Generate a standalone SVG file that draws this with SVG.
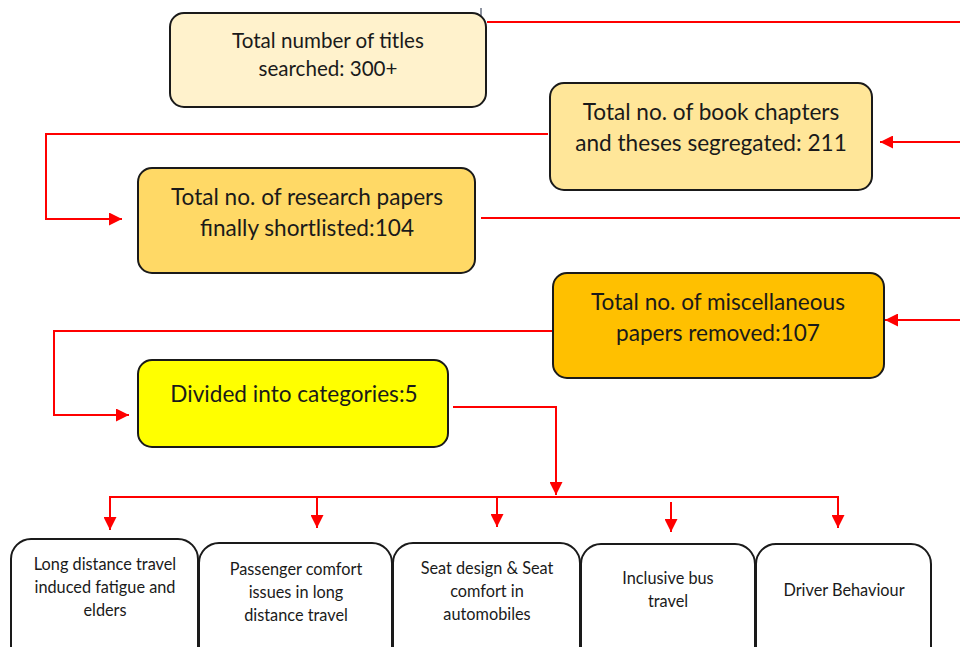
<svg xmlns="http://www.w3.org/2000/svg" width="960" height="647" viewBox="0 0 960 647">
  <defs>
    <style>
      .box { stroke: #1a1a1a; stroke-width: 2; }
      .leaf { fill: #ffffff; stroke: #1a1a1a; stroke-width: 2; }
      .lbl { font-family: Lato, "Liberation Sans", sans-serif; fill: #1a1a1a; text-anchor: middle; }
      .big { font-size: 22.6px; }
      .mid { font-size: 20.6px; }
      .sm { font-size: 16.3px; }
      .wire { fill: none; stroke: #ff0000; stroke-width: 2; }
    </style>
    <marker id="head" viewBox="0 0 10 10" refX="10" refY="5" markerWidth="13" markerHeight="13" markerUnits="userSpaceOnUse" orient="auto">
      <path d="M0,0 L10,5 L0,10 Z" fill="#ff0000"/>
    </marker>
  </defs>

  <rect width="960" height="647" fill="#ffffff"/>

  <!-- connectors -->
  <g id="connectors">
    <path class="wire" d="M487,22 H960"/>
    <path class="wire" d="M960,142 H880" marker-end="url(#head)"/>
    <path class="wire" d="M548,134 H46 V219 H122" marker-end="url(#head)"/>
    <path class="wire" d="M481,218 H960"/>
    <path class="wire" d="M960,320 H885" marker-end="url(#head)"/>
    <path class="wire" d="M553,331 H54 V415 H129" marker-end="url(#head)"/>
    <path class="wire" d="M453,407 H556 V495" marker-end="url(#head)"/>
    <path class="wire" d="M110,530 V497 H838 V528" marker-end="url(#head)"/>
    <path class="wire" d="M110,497 V530" marker-end="url(#head)"/>
    <path class="wire" d="M317,497 V528" marker-end="url(#head)"/>
    <path class="wire" d="M497,497 V527" marker-end="url(#head)"/>
    <path class="wire" d="M671,502 V532" marker-end="url(#head)"/>
  </g>

  <!-- text cursor mark -->
  <line x1="481" y1="8" x2="481" y2="38" stroke="#1f2a44" stroke-width="1"/>

  <g id="titles-searched">
    <rect class="box" x="170" y="13" width="316" height="94" rx="14" fill="#fff2cc"/>
    <text class="lbl mid" x="328" y="48">Total number of titles</text>
    <text class="lbl mid" x="328" y="76">searched: 300+</text>
  </g>

  <g id="chapters-theses">
    <rect class="box" x="550" y="83" width="322" height="107" rx="14" fill="#ffe699"/>
    <text class="lbl big" x="711" y="120">Total no. of book chapters</text>
    <text class="lbl big" x="711" y="151">and theses segregated: 211</text>
  </g>

  <g id="papers-shortlisted">
    <rect class="box" x="138" y="168" width="337" height="105" rx="14" fill="#ffd966"/>
    <text class="lbl big" x="307" y="205">Total no. of research papers</text>
    <text class="lbl big" x="307" y="236">finally shortlisted:104</text>
  </g>

  <g id="misc-removed">
    <rect class="box" x="553" y="273" width="331" height="105" rx="14" fill="#ffc000"/>
    <text class="lbl big" x="718" y="310">Total no. of miscellaneous</text>
    <text class="lbl big" x="718" y="341">papers removed:107</text>
  </g>

  <g id="categories">
    <rect class="box" x="138" y="360" width="310" height="87" rx="14" fill="#ffff00"/>
    <text class="lbl big" x="294" y="402">Divided into categories:5</text>
  </g>

  <g id="cat-fatigue">
    <rect class="leaf" x="11" y="539" width="187" height="130" rx="20"/>
    <text class="lbl sm" x="105" y="570">Long distance travel</text>
    <text class="lbl sm" x="105" y="593">induced fatigue and</text>
    <text class="lbl sm" x="105" y="616">elders</text>
  </g>

  <g id="cat-comfort">
    <rect class="leaf" x="199" y="543" width="193" height="130" rx="20"/>
    <text class="lbl sm" x="296" y="575">Passenger comfort</text>
    <text class="lbl sm" x="296" y="598">issues in long</text>
    <text class="lbl sm" x="296" y="621">distance travel</text>
  </g>

  <g id="cat-seat">
    <rect class="leaf" x="393" y="543" width="187" height="130" rx="20"/>
    <text class="lbl sm" x="487" y="574">Seat design &amp; Seat</text>
    <text class="lbl sm" x="487" y="597">comfort in</text>
    <text class="lbl sm" x="487" y="620">automobiles</text>
  </g>

  <g id="cat-bus">
    <rect class="leaf" x="581" y="544" width="174" height="130" rx="20"/>
    <text class="lbl sm" x="668" y="584">Inclusive bus</text>
    <text class="lbl sm" x="668" y="607">travel</text>
  </g>

  <g id="cat-driver">
    <rect class="leaf" x="756" y="544" width="175" height="130" rx="20"/>
    <text class="lbl sm" x="844" y="596">Driver Behaviour</text>
  </g>
</svg>
